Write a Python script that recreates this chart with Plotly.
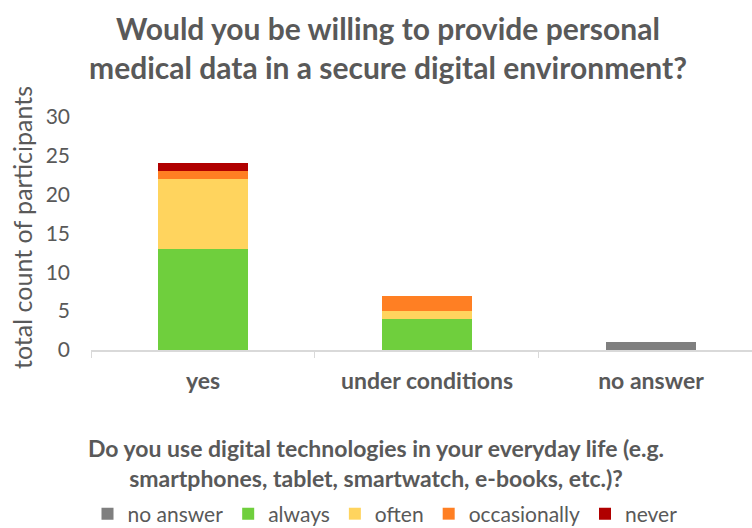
import plotly.graph_objects as go

# Survey answers (x categories) and usage frequency of digital technologies (stack segments)
categories = ["yes", "under conditions", "no answer"]
series_names = ["no answer", "always", "often", "occasionally", "never"]
series_values = {
    "no answer":    [0, 0, 1],
    "always":       [13, 4, 0],
    "often":        [9, 1, 0],
    "occasionally": [1, 2, 0],
    "never":        [1, 0, 0],
}
series_colors = {
    "no answer": "#7f7f7f",
    "always": "#6fcf3d",
    "often": "#ffd45e",
    "occasionally": "#ff7f23",
    "never": "#b00000",
}
y_ticks = [0, 5, 10, 15, 20, 25, 30]

title_text = "Would you be willing to provide personal<br>medical data in a secure digital environment?"
x_title_text = ("Do you use digital technologies in your everyday life (e.g.<br>"
                "smartphones, tablet, smartwatch, e-books, etc.)?")
y_title_text = "total count of participants"

FONT = "Lato"
GREY = "#595959"

W, H = 752, 528
PLOT_LEFT, PLOT_RIGHT = 91, 752
PLOT_TOP, PLOT_BOTTOM = 105, 350

def px(pixel_x):
    return (pixel_x - PLOT_LEFT) / (PLOT_RIGHT - PLOT_LEFT)

def py(pixel_y):
    return (PLOT_BOTTOM - pixel_y) / (PLOT_BOTTOM - PLOT_TOP)

fig = go.Figure()
for name in series_names:
    fig.add_trace(go.Bar(
        name=name,
        x=categories,
        y=series_values[name],
        marker=dict(color=series_colors[name], line=dict(width=0)),
    ))

fig.update_layout(
    barmode="stack",
    bargap=0.6,
    width=W,
    height=H,
    margin=dict(l=PLOT_LEFT, r=W - PLOT_RIGHT, t=PLOT_TOP, b=H - PLOT_BOTTOM, autoexpand=False),
    paper_bgcolor="white",
    plot_bgcolor="white",
    font=dict(family=FONT, color=GREY),
    xaxis=dict(
        type="category",
        range=[-0.5, 2.451],
        showline=True, linecolor="#d9d9d9", linewidth=1.5,
        ticks="outside", tickson="boundaries", ticklen=6, tickcolor="#d9d9d9",
        tickfont=dict(size=23, family=FONT, color=GREY),
        tickprefix="<b>", ticksuffix="</b>",
        ticklabelstandoff=10,
        tickangle=0,
        showgrid=False,
    ),
    yaxis=dict(
        range=[0, 31.5],
        tickvals=y_ticks,
        showgrid=False,
        showline=False,
        ticks="",
        tickfont=dict(size=21, family=FONT, color=GREY),
        ticklabelstandoff=20,
        title=dict(text=y_title_text, font=dict(size=25, family=FONT, color=GREY), standoff=5),
    ),
    legend=dict(
        orientation="h",
        x=385 / W, xref="container", xanchor="center",
        y=(H - 514) / H, yref="container", yanchor="middle",
        font=dict(size=21, family=FONT, color=GREY),
        traceorder="normal",
    ),
    annotations=[
        dict(
            text="<b>" + title_text + "</b>",
            x=px(388), xref="paper", xanchor="center",
            y=py(47), yref="paper", yanchor="middle",
            showarrow=False,
            font=dict(size=30, family=FONT, color=GREY),
        ),
        dict(
            text="<b>" + x_title_text + "</b>",
            x=px(376), xref="paper", xanchor="center",
            y=py(463), yref="paper", yanchor="middle",
            showarrow=False,
            font=dict(size=23, family=FONT, color=GREY),
        ),
    ],
)

fig.write_html("out.html")
